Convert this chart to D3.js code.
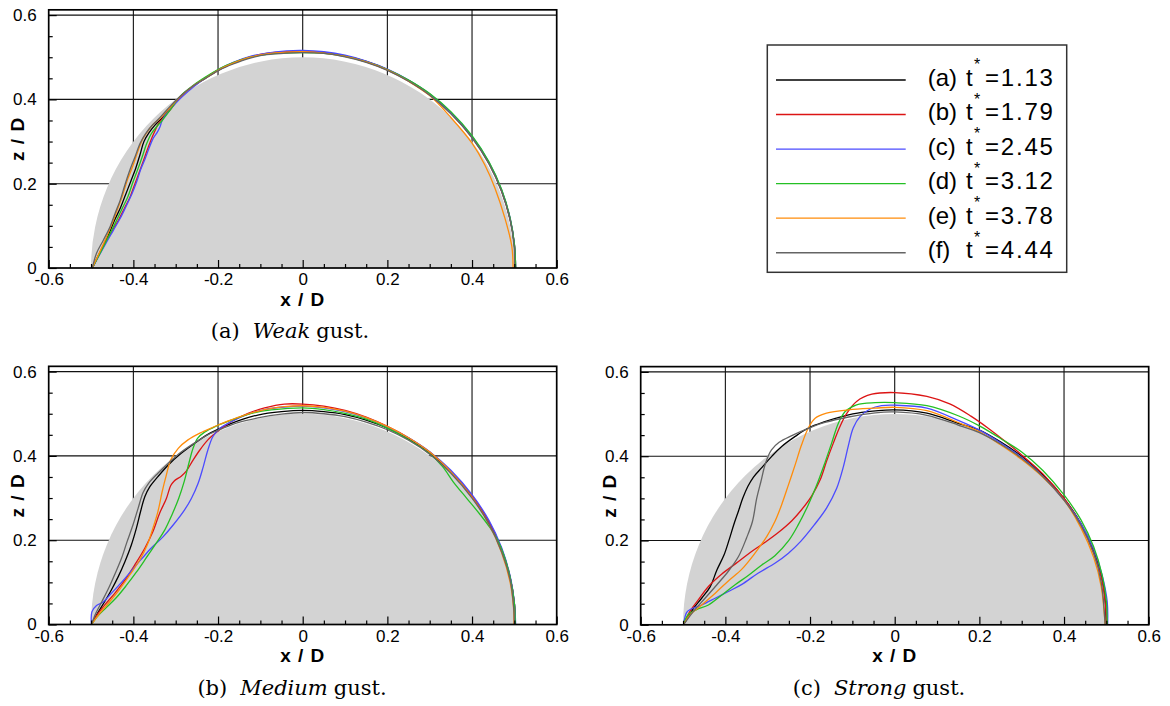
<!DOCTYPE html>
<html><head><meta charset="utf-8">
<script src="https://cdn.jsdelivr.net/npm/d3@7"></script>
<style>body{margin:0;background:#fff}svg{display:block}</style>
</head><body><svg id="chart" width="1170" height="706"></svg>
<script>
// ---------------- DATA ----------------
const seriesLetters = ["a","b","c","d","e","f"];
const seriesTimes = ["1.13","1.79","2.45","3.12","3.78","4.44"];
const xTickValues = [-0.6,-0.4,-0.2,0,0.2,0.4,0.6];
const yTickValues = [0,0.2,0.4,0.6];
const xMinorTicks = [-0.55,-0.5,-0.45,-0.35,-0.3,-0.25,-0.15,-0.1,-0.05,0.05,0.1,0.15,0.25,0.3,0.35,0.45,0.5,0.55];
const yMinorTicks = [0.05,0.1,0.15,0.25,0.3,0.35,0.45,0.5,0.55];
const xGrid = [-0.4,-0.2,0,0.2,0.4];
const yGrid = [0.2,0.4,0.6];
const captionTags = ["(a)","(b)","(c)"];
const captionWords = ["Weak","Medium","Strong"];
const cylinderRadius = 0.5;

// Weak gust, points [x/D, z/D]
const weak113 = [[-0.497,0],[-0.477,0.041],[-0.461,0.073],[-0.446,0.110],[-0.430,0.144],[-0.418,0.175],[-0.406,0.206],[-0.394,0.238],[-0.384,0.270],[-0.375,0.300],[-0.363,0.321],[-0.349,0.339],[-0.333,0.355],[-0.315,0.376],[-0.290,0.406],[-0.258,0.432],[-0.227,0.452],[-0.195,0.472],[-0.164,0.486],[-0.124,0.500],[-0.085,0.508],[-0.038,0.512],[0,0.513],[0.05,0.511],[0.1,0.503],[0.15,0.490],[0.2,0.471],[0.25,0.445],[0.3,0.412],[0.35,0.368],[0.4,0.311],[0.44,0.249],[0.47,0.183],[0.49,0.116],[0.5,0.056],[0.503,0]];
const weak179 = [[-0.497,0],[-0.471,0.051],[-0.452,0.085],[-0.435,0.114],[-0.420,0.144],[-0.408,0.168],[-0.398,0.195],[-0.387,0.225],[-0.376,0.255],[-0.368,0.278],[-0.359,0.302],[-0.350,0.323],[-0.341,0.342],[-0.331,0.355],[-0.313,0.375],[-0.290,0.405],[-0.258,0.432],[-0.227,0.453],[-0.195,0.472],[-0.164,0.487],[-0.124,0.501],[-0.085,0.509],[-0.038,0.513],[0,0.514],[0.05,0.511],[0.1,0.503],[0.15,0.489],[0.2,0.470],[0.25,0.444],[0.3,0.411],[0.35,0.367],[0.4,0.310],[0.44,0.248],[0.47,0.182],[0.49,0.115],[0.5,0.055],[0.502,0]];
const weak245 = [[-0.497,0],[-0.467,0.055],[-0.447,0.090],[-0.431,0.118],[-0.416,0.149],[-0.403,0.177],[-0.392,0.205],[-0.383,0.233],[-0.372,0.260],[-0.363,0.284],[-0.353,0.308],[-0.343,0.323],[-0.337,0.335],[-0.332,0.350],[-0.324,0.363],[-0.306,0.384],[-0.285,0.406],[-0.256,0.431],[-0.226,0.453],[-0.195,0.473],[-0.164,0.488],[-0.124,0.502],[-0.085,0.510],[-0.038,0.515],[0,0.516],[0.05,0.513],[0.1,0.505],[0.15,0.491],[0.2,0.472],[0.25,0.446],[0.3,0.413],[0.35,0.369],[0.4,0.312],[0.44,0.251],[0.47,0.185],[0.49,0.118],[0.5,0.057],[0.503,0]];
const weak312 = [[-0.497,0],[-0.474,0.044],[-0.457,0.078],[-0.441,0.110],[-0.426,0.142],[-0.413,0.169],[-0.402,0.201],[-0.390,0.233],[-0.379,0.264],[-0.369,0.294],[-0.358,0.318],[-0.346,0.334],[-0.331,0.351],[-0.313,0.375],[-0.291,0.406],[-0.259,0.433],[-0.228,0.454],[-0.196,0.473],[-0.164,0.487],[-0.124,0.500],[-0.085,0.507],[-0.038,0.510],[0,0.511],[0.05,0.509],[0.1,0.502],[0.15,0.489],[0.2,0.471],[0.25,0.446],[0.3,0.414],[0.35,0.371],[0.4,0.314],[0.44,0.252],[0.47,0.186],[0.49,0.118],[0.5,0.057],[0.503,0]];
const weak378 = [[-0.497,0],[-0.481,0.035],[-0.465,0.070],[-0.450,0.106],[-0.438,0.138],[-0.426,0.171],[-0.414,0.209],[-0.402,0.240],[-0.391,0.272],[-0.379,0.304],[-0.367,0.323],[-0.353,0.341],[-0.337,0.355],[-0.317,0.376],[-0.291,0.405],[-0.259,0.432],[-0.227,0.452],[-0.195,0.472],[-0.164,0.486],[-0.124,0.500],[-0.085,0.508],[-0.038,0.512],[0,0.513],[0.05,0.510],[0.1,0.502],[0.15,0.489],[0.2,0.470],[0.25,0.443],[0.3,0.409],[0.35,0.357],[0.4,0.296],[0.43,0.245],[0.454,0.190],[0.478,0.117],[0.494,0.051],[0.497,0]];
const weak444 = [[-0.497,0],[-0.487,0.035],[-0.471,0.066],[-0.455,0.098],[-0.443,0.130],[-0.431,0.161],[-0.420,0.197],[-0.408,0.233],[-0.396,0.264],[-0.384,0.296],[-0.371,0.319],[-0.357,0.337],[-0.341,0.353],[-0.321,0.375],[-0.293,0.404],[-0.260,0.431],[-0.228,0.451],[-0.196,0.470],[-0.164,0.484],[-0.124,0.498],[-0.085,0.506],[-0.038,0.510],[0,0.511],[0.05,0.509],[0.1,0.501],[0.15,0.488],[0.2,0.469],[0.25,0.443],[0.3,0.410],[0.35,0.366],[0.4,0.309],[0.44,0.247],[0.47,0.181],[0.49,0.114],[0.499,0.054],[0.501,0]];

// Medium gust
const medium113 = [[-0.499,0],[-0.485,0.026],[-0.468,0.054],[-0.452,0.082],[-0.436,0.113],[-0.420,0.149],[-0.405,0.188],[-0.393,0.228],[-0.383,0.268],[-0.373,0.303],[-0.361,0.327],[-0.342,0.351],[-0.318,0.378],[-0.287,0.406],[-0.255,0.430],[-0.224,0.451],[-0.192,0.467],[-0.153,0.483],[-0.106,0.497],[-0.050,0.505],[0,0.508],[0.05,0.505],[0.1,0.498],[0.15,0.485],[0.2,0.466],[0.25,0.440],[0.3,0.407],[0.35,0.362],[0.4,0.304],[0.44,0.243],[0.47,0.178],[0.49,0.112],[0.5,0.050],[0.502,0]];
const medium179 = [[-0.499,0],[-0.487,0.021],[-0.468,0.046],[-0.444,0.074],[-0.420,0.105],[-0.397,0.141],[-0.373,0.181],[-0.354,0.220],[-0.338,0.264],[-0.322,0.299],[-0.312,0.329],[-0.304,0.340],[-0.287,0.352],[-0.275,0.364],[-0.259,0.390],[-0.243,0.414],[-0.224,0.438],[-0.200,0.459],[-0.169,0.481],[-0.129,0.501],[-0.090,0.514],[-0.043,0.523],[0,0.523],[0.05,0.518],[0.1,0.508],[0.15,0.492],[0.2,0.470],[0.25,0.443],[0.3,0.409],[0.35,0.363],[0.4,0.305],[0.44,0.243],[0.47,0.178],[0.49,0.112],[0.5,0.050],[0.502,0]];
const medium245 = [[-0.499,0],[-0.498,0.030],[-0.487,0.045],[-0.472,0.053],[-0.452,0.074],[-0.428,0.100],[-0.405,0.127],[-0.381,0.155],[-0.357,0.182],[-0.330,0.208],[-0.306,0.236],[-0.279,0.272],[-0.263,0.299],[-0.247,0.335],[-0.235,0.374],[-0.224,0.414],[-0.212,0.446],[-0.196,0.465],[-0.169,0.481],[-0.129,0.499],[-0.090,0.510],[-0.043,0.516],[0,0.518],[0.05,0.514],[0.1,0.505],[0.15,0.490],[0.2,0.469],[0.25,0.443],[0.3,0.410],[0.35,0.366],[0.4,0.308],[0.44,0.247],[0.47,0.182],[0.49,0.115],[0.5,0.052],[0.503,0]];
const medium312 = [[-0.499,0],[-0.483,0.021],[-0.464,0.040],[-0.440,0.064],[-0.417,0.092],[-0.393,0.124],[-0.369,0.159],[-0.346,0.193],[-0.326,0.224],[-0.309,0.260],[-0.293,0.299],[-0.280,0.339],[-0.269,0.382],[-0.259,0.418],[-0.248,0.442],[-0.231,0.457],[-0.204,0.471],[-0.169,0.485],[-0.121,0.501],[-0.074,0.509],[0,0.514],[0.05,0.510],[0.1,0.501],[0.15,0.487],[0.2,0.466],[0.25,0.439],[0.3,0.405],[0.33,0.375],[0.356,0.338],[0.387,0.300],[0.419,0.261],[0.443,0.229],[0.458,0.205],[0.475,0.165],[0.49,0.112],[0.5,0.050],[0.502,0]];
const medium378 = [[-0.499,0],[-0.480,0.026],[-0.456,0.054],[-0.432,0.084],[-0.409,0.117],[-0.385,0.153],[-0.367,0.189],[-0.354,0.228],[-0.342,0.268],[-0.332,0.315],[-0.322,0.355],[-0.312,0.390],[-0.294,0.418],[-0.271,0.438],[-0.243,0.454],[-0.212,0.468],[-0.176,0.483],[-0.137,0.497],[-0.090,0.510],[-0.043,0.517],[0,0.519],[0.05,0.515],[0.1,0.506],[0.15,0.491],[0.2,0.470],[0.25,0.443],[0.3,0.409],[0.35,0.362],[0.4,0.302],[0.44,0.238],[0.47,0.170],[0.49,0.100],[0.498,0.040],[0.499,0]];
const medium444 = [[-0.499,0],[-0.489,0.026],[-0.474,0.055],[-0.458,0.087],[-0.443,0.121],[-0.428,0.157],[-0.415,0.196],[-0.401,0.236],[-0.389,0.275],[-0.377,0.313],[-0.364,0.335],[-0.342,0.359],[-0.318,0.382],[-0.287,0.409],[-0.255,0.431],[-0.224,0.450],[-0.192,0.464],[-0.153,0.479],[-0.106,0.490],[-0.050,0.499],[0,0.503],[0.05,0.500],[0.1,0.493],[0.15,0.480],[0.2,0.462],[0.25,0.437],[0.3,0.404],[0.35,0.359],[0.4,0.300],[0.44,0.238],[0.47,0.172],[0.49,0.106],[0.498,0.045],[0.5,0]];

// Strong gust
const strong113 = [[-0.499,0],[-0.476,0.038],[-0.456,0.063],[-0.436,0.090],[-0.420,0.130],[-0.403,0.166],[-0.391,0.202],[-0.380,0.238],[-0.369,0.270],[-0.359,0.300],[-0.347,0.328],[-0.334,0.350],[-0.314,0.373],[-0.291,0.399],[-0.267,0.423],[-0.235,0.447],[-0.204,0.467],[-0.165,0.482],[-0.125,0.494],[-0.078,0.504],[0,0.510],[0.076,0.502],[0.15,0.478],[0.2,0.462],[0.25,0.434],[0.3,0.400],[0.35,0.356],[0.4,0.300],[0.44,0.240],[0.47,0.175],[0.49,0.110],[0.498,0.050],[0.499,0]];
const strong179 = [[-0.499,0],[-0.483,0.033],[-0.464,0.059],[-0.440,0.091],[-0.409,0.120],[-0.369,0.150],[-0.338,0.174],[-0.306,0.196],[-0.275,0.219],[-0.243,0.247],[-0.220,0.273],[-0.196,0.306],[-0.176,0.344],[-0.161,0.388],[-0.145,0.431],[-0.129,0.471],[-0.113,0.502],[-0.090,0.530],[-0.054,0.547],[0,0.551],[0.076,0.542],[0.13,0.524],[0.18,0.495],[0.22,0.467],[0.26,0.436],[0.3,0.403],[0.35,0.358],[0.4,0.300],[0.44,0.238],[0.47,0.170],[0.49,0.103],[0.498,0.045],[0.5,0]];
const strong245 = [[-0.499,0],[-0.491,0.030],[-0.480,0.038],[-0.456,0.047],[-0.424,0.063],[-0.393,0.079],[-0.361,0.096],[-0.322,0.123],[-0.283,0.146],[-0.251,0.170],[-0.222,0.198],[-0.190,0.237],[-0.161,0.277],[-0.137,0.324],[-0.121,0.376],[-0.109,0.427],[-0.098,0.467],[-0.082,0.494],[-0.058,0.512],[-0.031,0.520],[0,0.521],[0.076,0.514],[0.15,0.485],[0.2,0.462],[0.25,0.432],[0.3,0.397],[0.35,0.352],[0.4,0.296],[0.44,0.240],[0.47,0.180],[0.49,0.118],[0.502,0.055],[0.503,0]];
const strong312 = [[-0.499,0],[-0.487,0.025],[-0.468,0.036],[-0.440,0.047],[-0.409,0.070],[-0.377,0.095],[-0.346,0.117],[-0.314,0.142],[-0.283,0.164],[-0.251,0.199],[-0.228,0.237],[-0.204,0.285],[-0.184,0.332],[-0.165,0.384],[-0.149,0.431],[-0.133,0.478],[-0.117,0.506],[-0.090,0.522],[-0.046,0.527],[0,0.527],[0.076,0.520],[0.15,0.496],[0.2,0.472],[0.25,0.442],[0.3,0.410],[0.35,0.366],[0.4,0.308],[0.44,0.249],[0.47,0.185],[0.49,0.118],[0.5,0.055],[0.502,0]];
const strong378 = [[-0.499,0],[-0.483,0.024],[-0.456,0.047],[-0.424,0.075],[-0.393,0.104],[-0.361,0.132],[-0.330,0.170],[-0.302,0.210],[-0.283,0.245],[-0.267,0.285],[-0.251,0.332],[-0.235,0.380],[-0.220,0.427],[-0.204,0.467],[-0.188,0.490],[-0.161,0.502],[-0.109,0.510],[-0.046,0.514],[0,0.516],[0.076,0.508],[0.15,0.480],[0.2,0.458],[0.25,0.427],[0.3,0.392],[0.35,0.350],[0.4,0.296],[0.44,0.230],[0.47,0.160],[0.488,0.090],[0.497,0]];
const strong444 = [[-0.499,0],[-0.472,0.036],[-0.448,0.063],[-0.420,0.095],[-0.393,0.127],[-0.369,0.162],[-0.350,0.206],[-0.336,0.245],[-0.326,0.300],[-0.316,0.340],[-0.305,0.384],[-0.291,0.415],[-0.273,0.433],[-0.243,0.449],[-0.204,0.466],[-0.165,0.480],[-0.109,0.493],[-0.046,0.503],[0,0.505],[0.076,0.497],[0.15,0.474],[0.2,0.456],[0.25,0.429],[0.3,0.395],[0.35,0.352],[0.4,0.296],[0.44,0.236],[0.47,0.170],[0.488,0.100],[0.497,0]];

const weakSeries = [weak113, weak179, weak245, weak312, weak378, weak444];
const mediumSeries = [medium113, medium179, medium245, medium312, medium378, medium444];
const strongSeries = [strong113, strong179, strong245, strong312, strong378, strong444];

// ---------------- STYLE / LAYOUT ----------------
const seriesColors = ["#000000","#dc1414","#4b4bff","#24c024","#ff8c0a","#646464"];
const FONT = "'Liberation Sans', Arial, Helvetica, sans-serif";
const SERIF = "'DejaVu Serif', serif";
const plotW = 508, plotTopValue = 0.6125, pxPerUnit = 421.5;

const svg = d3.select("#chart");

function drawPanel(left, y0, seriesList, ci, capCx) {
  const x = d3.scaleLinear().domain([-0.6, 0.6]).range([left, left + plotW]);
  const y = d3.scaleLinear().domain([0, plotTopValue]).range([y0, y0 - plotTopValue * pxPerUnit]);
  const g = svg.append("g");

  // grid
  g.selectAll(".gx").data(xGrid).join("line")
    .attr("x1", d => x(d)).attr("x2", d => x(d)).attr("y1", y(0)).attr("y2", y(plotTopValue))
    .attr("stroke", "#111").attr("stroke-width", 1.1);
  g.selectAll(".gy").data(yGrid).join("line")
    .attr("x1", x(-0.6)).attr("x2", x(0.6)).attr("y1", d => y(d)).attr("y2", d => y(d))
    .attr("stroke", "#111").attr("stroke-width", 1.1);

  // cylinder
  const rx = x(cylinderRadius) - x(0), ry = y(0) - y(cylinderRadius);
  g.append("path")
    .attr("d", `M${x(-cylinderRadius)},${y(0)} A${rx},${ry} 0 0 1 ${x(cylinderRadius)},${y(0)} Z`)
    .attr("fill", "#d3d3d3");

  // curves
  const line = d3.line().x(d => x(d[0])).y(d => y(d[1])).curve(d3.curveCatmullRom.alpha(0.5));
  seriesList.forEach((s, i) => {
    g.append("path").attr("d", line(s)).attr("fill", "none")
      .attr("stroke", seriesColors[i]).attr("stroke-width", 1.3).attr("stroke-linejoin", "round");
  });

  // axes
  const fmt = d => String(d);
  const ax = g.append("g").attr("transform", `translate(0,${y(0)})`)
    .call(d3.axisBottom(x).tickValues(xTickValues).tickFormat(fmt).tickSizeInner(-8).tickSizeOuter(0).tickPadding(5));
  const axm = g.append("g").attr("transform", `translate(0,${y(0)})`)
    .call(d3.axisBottom(x).tickValues(xMinorTicks).tickFormat("").tickSizeInner(-4).tickSizeOuter(0));
  const ay = g.append("g").attr("transform", `translate(${x(-0.6)},0)`)
    .call(d3.axisLeft(y).tickValues(yTickValues).tickFormat(fmt).tickSizeInner(-8).tickSizeOuter(0).tickPadding(12));
  const aym = g.append("g").attr("transform", `translate(${x(-0.6)},0)`)
    .call(d3.axisLeft(y).tickValues(yMinorTicks).tickFormat("").tickSizeInner(-4).tickSizeOuter(0));
  [ax, axm, ay, aym].forEach(a => {
    a.select(".domain").remove();
    a.selectAll("line").attr("stroke", "#000").attr("stroke-width", 1.2);
    a.selectAll("text").attr("font-family", FONT).attr("font-size", 17).attr("fill", "#000");
  });

  // frame
  g.append("rect").attr("x", x(-0.6)).attr("y", y(plotTopValue))
    .attr("width", x(0.6) - x(-0.6)).attr("height", y(0) - y(plotTopValue))
    .attr("fill", "none").attr("stroke", "#000").attr("stroke-width", 1.7);

  // axis titles
  g.append("text").attr("x", x(0)).attr("y", y(0) + 37.5)
    .attr("text-anchor", "middle").attr("font-family", FONT).attr("font-weight", "bold")
    .attr("font-size", 19).attr("letter-spacing", 1).text("x / D");
  const midY = (y(0) + y(plotTopValue)) / 2;
  g.append("text").attr("transform", `translate(${x(-0.6) - 24.5},${midY}) rotate(-90)`)
    .attr("text-anchor", "middle").attr("font-family", FONT).attr("font-weight", "bold")
    .attr("font-size", 19).attr("letter-spacing", 1).text("z / D");

  // caption
  const cap = g.append("text").attr("x", capCx).attr("y", y(0) + 70.3)
    .attr("text-anchor", "middle").attr("font-family", SERIF).attr("font-size", 21).attr("fill", "#000");
  cap.append("tspan").text(captionTags[ci]);
  cap.append("tspan").attr("dx", 13).attr("font-style", "italic").text(captionWords[ci]);
  cap.append("tspan").attr("dx", 6).text("gust.");
}

drawPanel(48.7, 268, weakSeries, 0, 290);
drawPanel(48.7, 624.5, mediumSeries, 1, 292);
drawPanel(640.7, 624.8, strongSeries, 2, 879);

// legend
const lg = svg.append("g");
lg.append("rect").attr("x", 767.3).attr("y", 45).attr("width", 299.4).attr("height", 227.3)
  .attr("fill", "#fff").attr("stroke", "#333").attr("stroke-width", 1.5);
const legendY = d3.scalePoint().domain(seriesLetters).range([80, 252.7]);
seriesLetters.forEach((L, i) => {
  const ly = legendY(L);
  lg.append("line").attr("x1", 776).attr("x2", 905.7).attr("y1", ly).attr("y2", ly)
    .attr("stroke", seriesColors[i]).attr("stroke-width", 1.4);
  lg.append("text").attr("x", 927.7).attr("y", ly + 5.5).attr("font-family", FONT).attr("font-size", 24).text(`(${L})`);
  lg.append("text").attr("x", 966).attr("y", ly + 5.5).attr("font-family", FONT).attr("font-size", 24).text("t");
  lg.append("text").attr("x", 974).attr("y", ly - 9.8).attr("font-family", FONT).attr("font-size", 16).text("*");
  lg.append("text").attr("x", 985).attr("y", ly + 5.5).attr("font-family", FONT).attr("font-size", 24)
    .attr("letter-spacing", 1.8).text("=" + seriesTimes[i]);
});
</script>
</body></html>
